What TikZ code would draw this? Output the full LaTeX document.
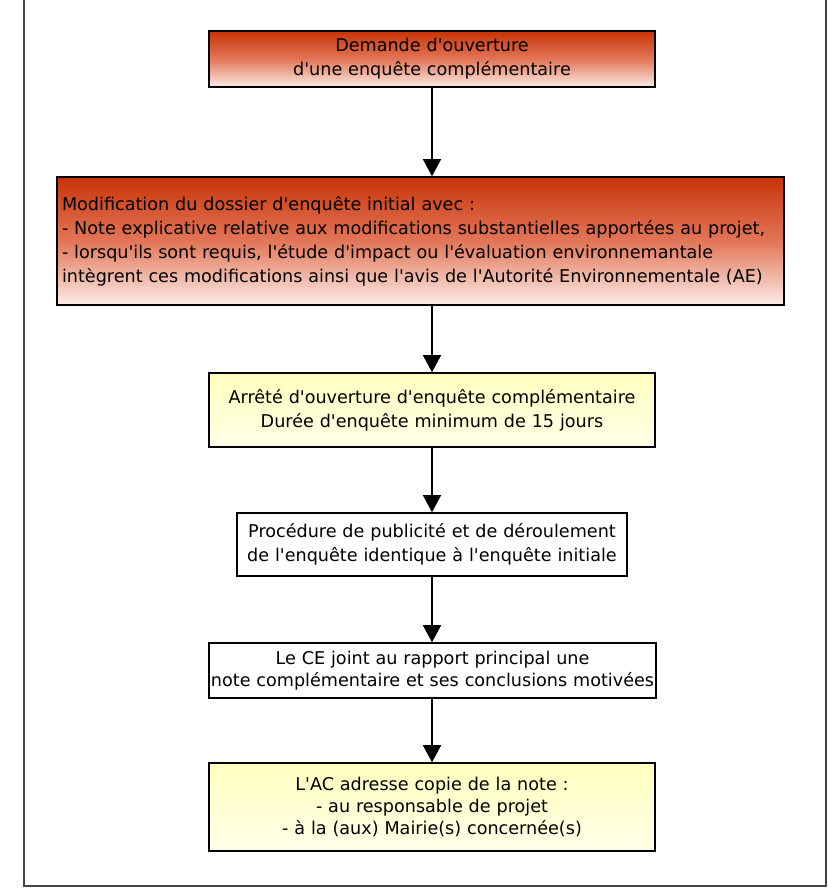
\documentclass[tikz,border=0pt]{standalone}
\usepackage{fontspec}
\setmainfont[Ligatures=TeXOff]{DejaVu Sans}
\usepackage{tikz}
\usetikzlibrary{arrows.meta}
\definecolor{rougehaut}{RGB}{200,52,8}
\definecolor{rougemilieu}{RGB}{226,118,88}
\definecolor{rougebas}{RGB}{252,236,230}
\definecolor{jaunehaut}{RGB}{255,255,190}
\definecolor{jaunebas}{RGB}{255,255,232}
\definecolor{cadre}{RGB}{70,70,70}
\tikzset{
    etape/.style={draw=black,line width=1.6pt,inner xsep=0pt,inner ysep=0pt,align=center,
        font=\fontsize{17.6}{24}\selectfont},
    rouge/.style={etape,top color=rougehaut,bottom color=rougebas,middle color=rougemilieu},
    jaune/.style={etape,top color=jaunehaut,bottom color=jaunebas},
    blanc/.style={etape,fill=white},
    fleche/.style={line width=1.5pt,-{Triangle[width=18pt,length=17pt]}}
}

\begin{document}
\begin{tikzpicture}[x=1pt,y=-1pt]
\useasboundingbox (0,0) rectangle (827,888);
% cadre
\draw[cadre,line width=1.5pt] (24,0) -- (24,886) -- (826,886) -- (826,0);
% etapes
\node[rouge,text width=446pt,minimum height=56pt] (dem) at (432,59) {Demande d'ouverture\\d'une enquête complémentaire};
\node[rouge,text width=717pt,minimum height=128pt,inner xsep=5pt,align=left] (modif) at (420.5,241) {Modification du dossier d'enquête initial avec :\\- Note explicative relative aux modifications substantielles apportées au projet,\\- lorsqu'ils sont requis, l'étude d'impact ou l'évaluation environnemantale\\intègrent ces modifications ainsi que l'avis de l'Autorité Environnementale (AE)};
\node[jaune,text width=446pt,minimum height=74pt] (arr) at (432,410) {Arrêté d'ouverture d'enquête complémentaire\\Durée d'enquête minimum de 15 jours};
\node[blanc,text width=390pt,minimum height=63pt] (proc) at (432,544.5) {Procédure de publicité et de déroulement\\de l'enquête identique à l'enquête initiale};
\node[blanc,text width=447pt,minimum height=55pt,font=\fontsize{17.6}{22.5}\selectfont] (ce) at (432.5,670.5) {Le CE joint au rapport principal une\\note complémentaire et ses conclusions motivées};
\node[jaune,text width=446pt,minimum height=88pt,font=\fontsize{17.6}{22}\selectfont] (ac) at (432,807) {L'AC adresse copie de la note :\\- au responsable de projet\\- à la (aux) Mairie(s) concernée(s)};
% fleches
\draw[fleche] (dem.south) -- (dem.south |- modif.north);
\draw[fleche] (arr.north |- modif.south) -- (arr.north);
\draw[fleche] (arr.south) -- (proc.north);
\draw[fleche] (proc.south) -- (proc.south |- ce.north);
\draw[fleche] (proc.south |- ce.south) -- (proc.south |- ac.north);
\end{tikzpicture}
\end{document}
